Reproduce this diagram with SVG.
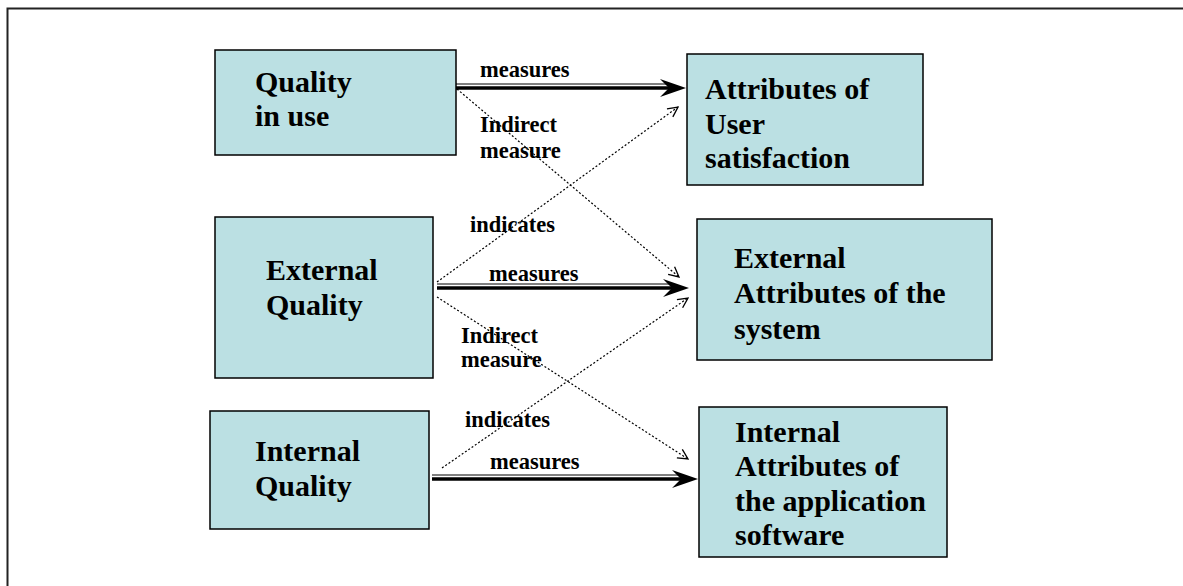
<svg xmlns="http://www.w3.org/2000/svg" width="1183" height="586" viewBox="0 0 1183 586">
<defs>
<style>
.box{fill:#BBE0E3;stroke:#000;stroke-width:1.5}
.nt{font-family:"Liberation Serif","Times New Roman",serif;font-weight:bold;font-size:30px;fill:#000}
.lb{font-family:"Liberation Serif","Times New Roman",serif;font-weight:bold;font-size:22.5px;fill:#000}
.thin{stroke:#000;stroke-width:1;fill:none}
.thick{stroke:#000;stroke-width:3.5;fill:none}
.dot{stroke:#000;stroke-width:1.2;fill:none;stroke-dasharray:2,2}
.head{fill:#000}
</style>
<marker id="open" viewBox="0 0 12 12" refX="11" refY="6" markerWidth="12" markerHeight="12" markerUnits="userSpaceOnUse" orient="auto">
<path d="M1,1 L11,6 L1,11" fill="none" stroke="#000" stroke-width="1.3"/>
</marker>
</defs>
<rect width="1183" height="586" fill="#fff"/>
<path d="M7.5,600 L7.5,8.5 L1190,8.5" fill="none" stroke="#222" stroke-width="2"/>

<g id="quality-in-use"><rect class="box" x="215" y="50" width="241" height="105"/>
<text class="nt" x="255" y="92">Quality</text><text class="nt" x="255" y="126">in use</text></g>
<g id="user-satisfaction"><rect class="box" x="687" y="54" width="236" height="131"/>
<text class="nt" x="705" y="99">Attributes of</text><text class="nt" x="705" y="134">User</text><text class="nt" x="705" y="168">satisfaction</text></g>
<g id="external-quality"><rect class="box" x="215" y="217" width="218" height="161"/>
<text class="nt" x="266" y="280">External</text><text class="nt" x="266" y="315">Quality</text></g>
<g id="external-attributes"><rect class="box" x="697" y="219" width="295" height="141"/>
<text class="nt" x="734" y="268">External</text><text class="nt" x="734" y="303">Attributes of the</text><text class="nt" x="734" y="339">system</text></g>
<g id="internal-quality"><rect class="box" x="210" y="411" width="219" height="118"/>
<text class="nt" x="255" y="461">Internal</text><text class="nt" x="255" y="496">Quality</text></g>
<g id="internal-attributes"><rect class="box" x="699" y="407" width="248" height="150"/>
<text class="nt" x="735" y="442">Internal</text><text class="nt" x="735" y="476">Attributes of</text><text class="nt" x="735" y="511">the application</text><text class="nt" x="735" y="545">software</text></g>

<g id="connectors">
<line class="thin" x1="456" y1="84" x2="670" y2="84"/>
<line class="thick" x1="456" y1="88" x2="672" y2="88"/>
<path class="head" d="M686,88 L660,79 L669,88 L660,97 Z"/>
<line class="thin" x1="437" y1="284" x2="672" y2="284"/>
<line class="thick" x1="437" y1="288" x2="674" y2="288"/>
<path class="head" d="M689,288 L663,279 L672,288 L663,297 Z"/>
<line class="thin" x1="432" y1="475" x2="681" y2="475"/>
<line class="thick" x1="432" y1="479" x2="683" y2="479"/>
<path class="head" d="M698,479 L672,470 L681,479 L672,488 Z"/>
<line class="dot" x1="457" y1="89" x2="679" y2="277" marker-end="url(#open)"/>
<line class="dot" x1="437" y1="282" x2="678" y2="107" marker-end="url(#open)"/>
<line class="dot" x1="437" y1="297" x2="688" y2="459" marker-end="url(#open)"/>
<line class="dot" x1="442" y1="468" x2="688" y2="298" marker-end="url(#open)"/>
<text class="lb" x="480" y="77">measures</text>
<text class="lb" x="480" y="132">Indirect</text>
<text class="lb" x="480" y="158">measure</text>
<text class="lb" x="470" y="232">indicates</text>
<text class="lb" x="489" y="281">measures</text>
<text class="lb" x="461" y="343">Indirect</text>
<text class="lb" x="461" y="367">measure</text>
<text class="lb" x="465" y="427">indicates</text>
<text class="lb" x="490" y="469">measures</text>
</g>
</svg>
